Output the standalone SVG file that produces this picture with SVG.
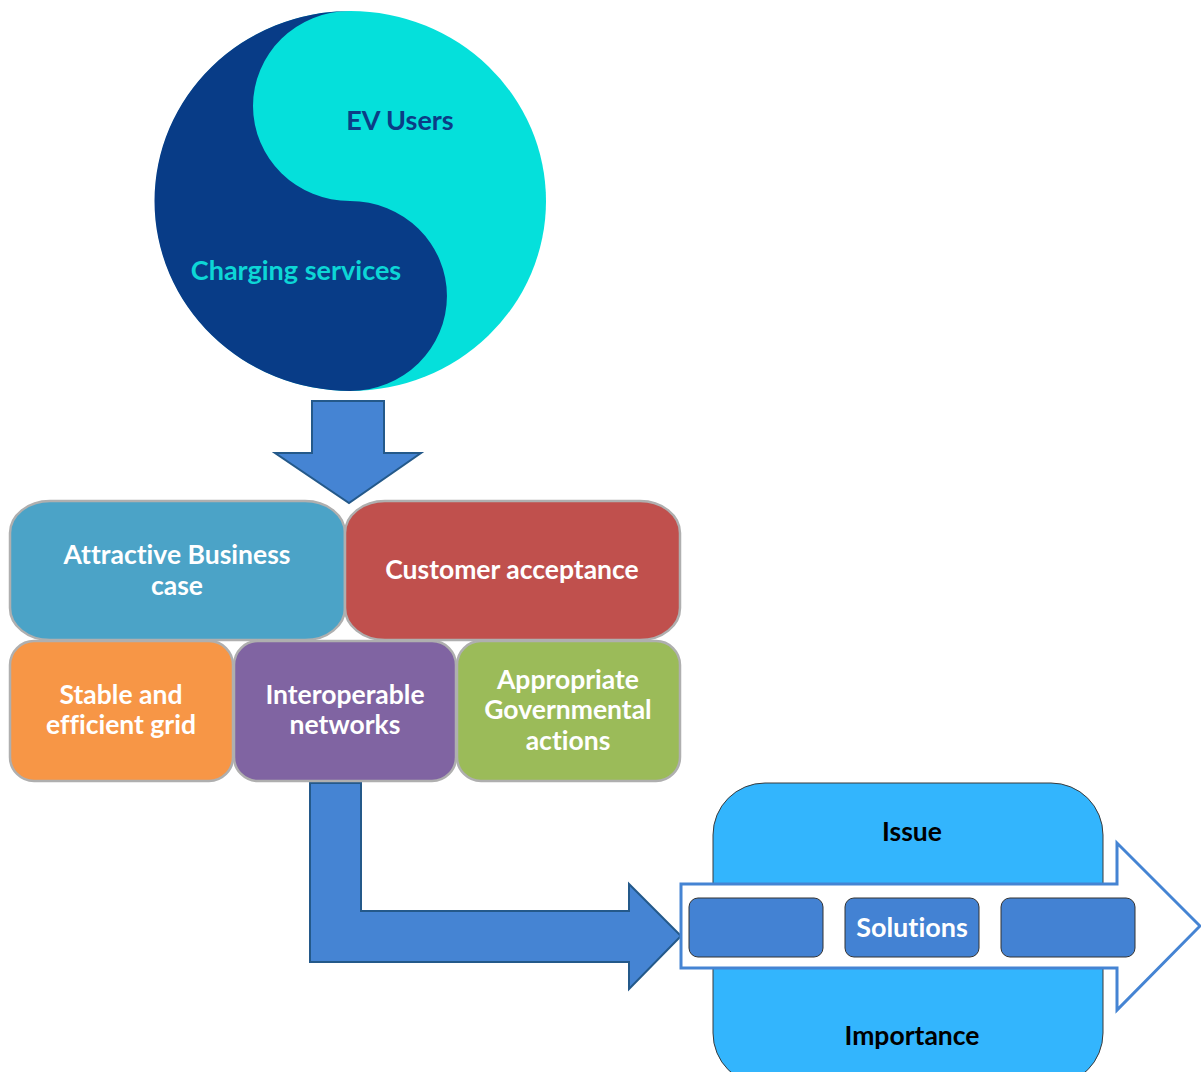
<svg xmlns="http://www.w3.org/2000/svg" width="1201" height="1072" viewBox="0 0 1201 1072">
<style>
text{font-family:Lato,"Open Sans","Liberation Sans",sans-serif;font-weight:bold;text-anchor:middle;font-size:26.5px;font-variant-ligatures:none}
.big{font-size:27px}
.w{fill:#ffffff}
.k{fill:#000000}
.box{stroke:#AFAFAF;stroke-width:2.5}
.arrow{fill:#4584D3;stroke:#24598A;stroke-width:2}
.sol{fill:#4382D3;stroke:#333333;stroke-width:1}
</style>
<rect width="1201" height="1072" fill="#ffffff"/>
<g id="yinyang">
<ellipse cx="350.5" cy="201" rx="195.5" ry="190" fill="#05E0DB"/>
<path d="M350 11 A97 95 0 0 0 350 201 A97 95 0 0 1 350 391 A195.5 190 0 0 1 350 11 Z" fill="#083C87"/>
<text class="big" x="400" y="130" fill="#0B3D86">EV Users</text>
<text class="big" x="296" y="280" fill="#0DD6D6">Charging services</text>
</g>
<g id="connectors">
<path class="arrow" d="M312 401 L384 401 L384 453 L421 453 L349 503 L275 453 L312 453 Z"/>
<path class="arrow" d="M310 783 L361 783 L361 911 L629 911 L629 884 L681 936 L629 989 L629 962 L310 962 Z"/>
</g>
<g id="business">
<rect class="box" x="10" y="501" width="335" height="139" rx="40" ry="32" fill="#4BA3C7"/>
<text class="w" x="177" y="564">Attractive Business</text>
<text class="w" x="177" y="595">case</text>
</g>
<g id="customer">
<rect class="box" x="345" y="501" width="335" height="139" rx="40" ry="32" fill="#C0504D"/>
<text class="w" x="512" y="579">Customer acceptance</text>
</g>
<g id="grid">
<rect class="box" x="10" y="641" width="223" height="140" rx="24" fill="#F79646"/>
<text class="w" x="121" y="704">Stable and</text>
<text class="w" x="121" y="734">efficient grid</text>
</g>
<g id="networks">
<rect class="box" x="234" y="641" width="222" height="140" rx="24" fill="#8064A2"/>
<text class="w" x="345" y="704">Interoperable</text>
<text class="w" x="345" y="734">networks</text>
</g>
<g id="government">
<rect class="box" x="457" y="641" width="223" height="140" rx="24" fill="#9BBB59"/>
<text class="w" x="568" y="689">Appropriate</text>
<text class="w" x="568" y="719">Governmental</text>
<text class="w" x="568" y="750">actions</text>
</g>
<g id="issue">
<rect x="713" y="783" width="390" height="302" rx="52" fill="#33B5FD" stroke="#3A3A3A" stroke-width="1"/>
<text class="k" x="912" y="841">Issue</text>
<text class="k" x="912" y="1045">Importance</text>
</g>
<g id="flow">
<path d="M681 884 L1117 884 L1117 843 L1200 926 L1117 1010 L1117 968 L681 968 Z" fill="#ffffff" stroke="#4584D3" stroke-width="3"/>
<rect class="sol" x="689" y="898" width="134" height="59" rx="9"/>
<rect class="sol" x="845" y="898" width="134" height="59" rx="9"/>
<rect class="sol" x="1001" y="898" width="134" height="59" rx="9"/>
<text class="w big" x="912" y="937">Solutions</text>
</g>
</svg>
